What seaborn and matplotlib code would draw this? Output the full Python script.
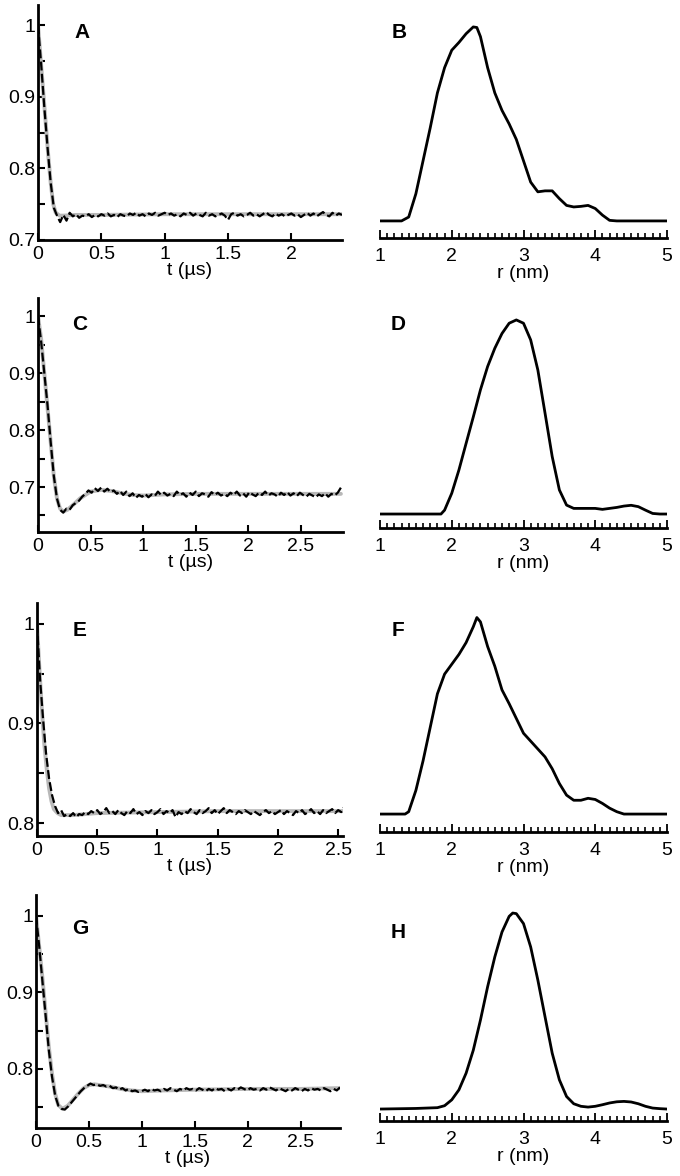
import numpy as np
import pandas as pd
import matplotlib.pyplot as plt
import seaborn as sns
from matplotlib.ticker import MultipleLocator, FormatStrFormatter

# ---- time traces (left column) ----
# smooth fits (grey)
tA_fit = [0, 0.02, 0.04, 0.06, 0.08, 0.10, 0.12, 0.14, 0.17, 0.2, 0.3, 0.5, 1.0, 1.5, 2.0, 2.4]
yA_fit = [1.0, 0.955, 0.91, 0.865, 0.82, 0.78, 0.75, 0.738, 0.734, 0.734, 0.735, 0.735, 0.736, 0.736, 0.736, 0.736]
tC_fit = [0, 0.03, 0.06, 0.09, 0.12, 0.15, 0.18, 0.21, 0.24, 0.28, 0.33, 0.4, 0.5, 0.6, 0.7, 0.8, 0.9, 1.0, 1.2, 1.5, 2.0, 2.5, 2.88]
yC_fit = [1.0, 0.96, 0.9, 0.84, 0.78, 0.72, 0.68, 0.662, 0.657, 0.66, 0.668, 0.68, 0.692, 0.695, 0.693, 0.689, 0.686, 0.685, 0.687, 0.688, 0.688, 0.688, 0.688]
tE_fit = [0, 0.02, 0.04, 0.06, 0.08, 0.10, 0.12, 0.14, 0.17, 0.2, 0.25, 0.3, 0.4, 0.5, 1.0, 1.5, 2.0, 2.55]
yE_fit = [1.0, 0.955, 0.915, 0.88, 0.855, 0.835, 0.822, 0.814, 0.81, 0.808, 0.808, 0.808, 0.809, 0.81, 0.811, 0.812, 0.812, 0.812]
tG_fit = [0, 0.03, 0.06, 0.09, 0.12, 0.15, 0.18, 0.21, 0.25, 0.3, 0.35, 0.4, 0.45, 0.5, 0.55, 0.6, 0.7, 0.8, 0.9, 1.0, 1.2, 1.5, 2.0, 2.5, 2.87]
yG_fit = [1.0, 0.96, 0.92, 0.875, 0.83, 0.795, 0.768, 0.753, 0.748, 0.752, 0.76, 0.768, 0.775, 0.779, 0.78, 0.779, 0.777, 0.774, 0.772, 0.771, 0.772, 0.773, 0.774, 0.774, 0.775]

# measured data (black dashed), evenly sampled from 0 to t_end
yA_data = [1.0, 0.945, 0.885, 0.83, 0.78, 0.745, 0.734, 0.725, 0.735, 0.727,
           0.738, 0.733, 0.736, 0.731, 0.734, 0.733, 0.736, 0.732, 0.735, 0.733,
           0.736, 0.734, 0.737, 0.733, 0.735, 0.732, 0.736, 0.734, 0.733, 0.737,
           0.735, 0.738, 0.734, 0.736, 0.733, 0.737, 0.735, 0.738, 0.734, 0.736,
           0.738, 0.735, 0.737, 0.734, 0.736, 0.733, 0.737, 0.735, 0.738, 0.734,
           0.737, 0.735, 0.733, 0.738, 0.734, 0.736, 0.733, 0.735, 0.737, 0.734,
           0.728, 0.736, 0.738, 0.734, 0.736, 0.733, 0.735, 0.738, 0.734, 0.736,
           0.733, 0.736, 0.739, 0.735, 0.733, 0.737, 0.734, 0.736, 0.733, 0.735,
           0.737, 0.734, 0.736, 0.732, 0.735, 0.738, 0.734, 0.737, 0.733, 0.736,
           0.739, 0.735, 0.733, 0.738, 0.734, 0.737, 0.735]
yC_data = [1.0, 0.955, 0.9, 0.845, 0.78, 0.72, 0.68, 0.66, 0.655, 0.662,
           0.66, 0.668, 0.672, 0.676, 0.683, 0.688, 0.694, 0.69, 0.698, 0.693,
           0.699, 0.692, 0.697, 0.691, 0.694, 0.688, 0.693, 0.686, 0.692, 0.684,
           0.689, 0.681, 0.686, 0.683, 0.688, 0.682, 0.687, 0.684, 0.692, 0.686,
           0.69, 0.685, 0.688, 0.684, 0.692, 0.686, 0.689, 0.683, 0.69, 0.686,
           0.692, 0.684, 0.689, 0.687, 0.683, 0.691, 0.686, 0.69, 0.685, 0.688,
           0.684, 0.69, 0.686, 0.692, 0.685, 0.689, 0.683, 0.691, 0.687, 0.684,
           0.69, 0.686, 0.692, 0.685, 0.689, 0.687, 0.683, 0.69, 0.686, 0.691,
           0.685, 0.689, 0.684, 0.69, 0.686, 0.683, 0.688, 0.685, 0.682, 0.687,
           0.684, 0.689, 0.683, 0.688, 0.685, 0.69, 0.699]
yE_data = [1.0, 0.945, 0.905, 0.87, 0.845, 0.828, 0.817, 0.81, 0.813, 0.807,
           0.809, 0.807, 0.81, 0.806, 0.809, 0.808, 0.811, 0.809, 0.812, 0.81,
           0.813, 0.809, 0.811, 0.815, 0.81, 0.812, 0.809, 0.813, 0.81, 0.808,
           0.812, 0.81, 0.814, 0.809, 0.811, 0.808, 0.812, 0.81, 0.813, 0.809,
           0.811, 0.814, 0.809, 0.812, 0.81, 0.813, 0.806, 0.811, 0.809, 0.812,
           0.81, 0.814, 0.811, 0.809, 0.813, 0.81, 0.812, 0.815, 0.81, 0.813,
           0.809, 0.812, 0.815, 0.81, 0.813, 0.811, 0.809, 0.812, 0.81, 0.813,
           0.811, 0.809, 0.812, 0.81, 0.808, 0.811, 0.813, 0.81, 0.812, 0.809,
           0.811, 0.813, 0.809, 0.812, 0.81, 0.808, 0.812, 0.81, 0.813, 0.809,
           0.811, 0.814, 0.81, 0.812, 0.809, 0.813, 0.81, 0.812, 0.814, 0.81,
           0.813, 0.811, 0.816]
yG_data = [1.0, 0.96, 0.915, 0.87, 0.825, 0.79, 0.765, 0.752, 0.748, 0.747,
           0.751, 0.756, 0.761, 0.766, 0.771, 0.775, 0.778, 0.781, 0.779, 0.78,
           0.778, 0.779, 0.777, 0.778, 0.775, 0.776, 0.773, 0.775, 0.772, 0.774,
           0.771, 0.772, 0.77, 0.771, 0.773, 0.771, 0.774, 0.772, 0.773, 0.771,
           0.774, 0.772, 0.775, 0.773, 0.771, 0.774, 0.772, 0.775, 0.773, 0.774,
           0.772, 0.775, 0.773, 0.771, 0.774, 0.772, 0.775, 0.773, 0.774, 0.771,
           0.774, 0.772, 0.775, 0.773, 0.776, 0.774, 0.772, 0.775, 0.773, 0.774,
           0.772, 0.775, 0.773, 0.776, 0.774, 0.772, 0.775, 0.773, 0.771, 0.774,
           0.772, 0.775, 0.773, 0.771, 0.774, 0.772, 0.775, 0.773, 0.774, 0.772,
           0.775, 0.773, 0.771, 0.774, 0.772, 0.776]
t_end = [2.4, 2.88, 2.55, 2.87]

# ---- distance distributions (right column) ----
rB = [1.0, 1.3, 1.4, 1.5, 1.6, 1.7, 1.8, 1.9, 2.0, 2.1, 2.2, 2.3, 2.35, 2.4, 2.5, 2.6, 2.7, 2.8, 2.9, 3.0,
      3.1, 3.2, 3.3, 3.4, 3.5, 3.6, 3.7, 3.8, 3.9, 4.0, 4.1, 4.2, 4.3, 5.0]
pB = [0, 0, 0.02, 0.14, 0.31, 0.48, 0.66, 0.79, 0.88, 0.92, 0.965, 1.0, 0.997, 0.95, 0.79, 0.66, 0.57, 0.5, 0.42, 0.31,
      0.2, 0.15, 0.155, 0.155, 0.115, 0.08, 0.072, 0.075, 0.08, 0.064, 0.03, 0.003, 0, 0]
rD = [1.0, 1.85, 1.9, 2.0, 2.1, 2.2, 2.3, 2.4, 2.5, 2.6, 2.7, 2.8, 2.9, 3.0, 3.1, 3.2, 3.3, 3.4, 3.5, 3.6,
      3.7, 3.8, 4.0, 4.1, 4.2, 4.3, 4.4, 4.5, 4.6, 4.7, 4.8, 4.9, 5.0]
pD = [0, 0, 0.02, 0.107, 0.227, 0.364, 0.5, 0.64, 0.76, 0.854, 0.93, 0.983, 1.0, 0.983, 0.897, 0.742, 0.52, 0.296, 0.124, 0.046,
      0.029, 0.029, 0.029, 0.024, 0.029, 0.034, 0.041, 0.045, 0.038, 0.02, 0.003, 0, 0]
rF = [1.0, 1.35, 1.4, 1.5, 1.6, 1.7, 1.8, 1.9, 2.0, 2.1, 2.2, 2.3, 2.35, 2.4, 2.5, 2.6, 2.7, 2.8, 2.9, 3.0,
      3.1, 3.2, 3.3, 3.4, 3.5, 3.6, 3.7, 3.8, 3.9, 4.0, 4.1, 4.2, 4.3, 4.4, 5.0]
pF = [0, 0, 0.012, 0.12, 0.27, 0.44, 0.61, 0.71, 0.76, 0.81, 0.87, 0.95, 0.997, 0.975, 0.85, 0.75, 0.63, 0.56, 0.485, 0.41,
      0.37, 0.33, 0.29, 0.23, 0.155, 0.096, 0.07, 0.07, 0.08, 0.074, 0.054, 0.03, 0.012, 0, 0]
rH = [1.0, 1.5, 1.8, 1.9, 2.0, 2.1, 2.2, 2.3, 2.4, 2.5, 2.6, 2.7, 2.8, 2.85, 2.9, 3.0, 3.1, 3.2, 3.3, 3.4,
      3.5, 3.6, 3.7, 3.8, 3.9, 4.0, 4.1, 4.2, 4.3, 4.4, 4.5, 4.6, 4.7, 4.8, 4.9, 5.0]
pH = [0, 0.003, 0.007, 0.017, 0.047, 0.098, 0.183, 0.3, 0.454, 0.624, 0.776, 0.903, 0.983, 1.0, 0.997, 0.946, 0.827, 0.658, 0.471, 0.285,
      0.149, 0.064, 0.027, 0.014, 0.01, 0.014, 0.022, 0.031, 0.037, 0.039, 0.036, 0.027, 0.014, 0.005, 0.002, 0]

left_letters = ['A', 'C', 'E', 'G']
right_letters = ['B', 'D', 'F', 'H']

sns.set_style('ticks', {'axes.edgecolor': 'black', 'text.color': 'black',
                        'xtick.color': 'black', 'ytick.color': 'black'})
plt.rcParams['font.family'] = ['Liberation Sans', 'DejaVu Sans']
plt.rcParams['font.size'] = 14

W, H = 680, 1176
fig = plt.figure(figsize=(W / 100, H / 100), dpi=100)


def px_axes(l, t, r, b):
    return fig.add_axes([l / W, 1 - b / H, (r - l) / W, (b - t) / H])


# pixel boxes and y ranges
left_boxes = [(38, 5, 342, 240), (38, 298, 343, 532), (37, 603, 343, 836), (36, 895, 340, 1128)]
left_xmax = [2.40, 2.90, 2.54, 2.87]
left_ylim = [(0.7, 1.028), (0.621, 1.032), (0.787, 1.021), (0.723, 1.027)]
right_boxes = [(380, 5, 667, 238), (380, 298, 667, 528), (380, 600, 667, 832), (380, 895, 667, 1121)]
right_ylim = [(-0.088, 1.113), (-0.072, 1.113), (-0.091, 1.086), (-0.061, 1.092)]
letter_pos_left = [(82, 33), (80, 325), (80, 630), (80, 928)]
letter_pos_right = [(399, 33), (398, 325), (398, 630), (398, 932)]

fits = [(tA_fit, yA_fit), (tC_fit, yC_fit), (tE_fit, yE_fit), (tG_fit, yG_fit)]
datas = [yA_data, yC_data, yE_data, yG_data]
dists = [(rB, pB), (rD, pD), (rF, pF), (rH, pH)]

for i in range(4):
    ax = px_axes(*left_boxes[i])
    tf, yf = fits[i]
    td = np.linspace(0, t_end[i], len(datas[i]))
    sns.lineplot(x=tf, y=yf, ax=ax, color='#b8b8b8', lw=2.8, sort=False)
    sns.lineplot(x=td, y=datas[i], ax=ax, color='black', lw=1.6,
                 linestyle=(0, (4, 1.5)), sort=False)
    ax.set_xlim(0, left_xmax[i])
    ax.set_ylim(*left_ylim[i])
    ax.xaxis.set_major_locator(MultipleLocator(0.5))
    ax.xaxis.set_major_formatter(FormatStrFormatter('%g'))
    ax.yaxis.set_major_locator(MultipleLocator(0.1))
    ax.yaxis.set_minor_locator(MultipleLocator(0.05))
    ax.yaxis.set_major_formatter(FormatStrFormatter('%g'))
    ax.tick_params(which='both', direction='in', length=5, width=1.5, labelsize=14, pad=2,
                   colors='black')
    ax.tick_params(axis='x', pad=4.5)
    sns.despine(ax=ax)
    for s in ['left', 'bottom']:
        ax.spines[s].set_linewidth(2)
        ax.spines[s].set_color('black')
    ax.set_xlabel('t (µs)', fontsize=14, labelpad=-1, color='black')
    ax.patch.set_alpha(0)
    fig.text(letter_pos_left[i][0] / W, 1 - letter_pos_left[i][1] / H, left_letters[i],
             fontsize=15, fontweight='bold', ha='center', va='center', color='black')

    ax2 = px_axes(*right_boxes[i])
    r, p = dists[i]
    sns.lineplot(x=r, y=p, ax=ax2, color='black', lw=2, sort=False)
    ax2.set_xlim(1, 5)
    ax2.set_ylim(*right_ylim[i])
    ax2.xaxis.set_major_locator(MultipleLocator(1))
    ax2.xaxis.set_minor_locator(MultipleLocator(0.1))
    ax2.xaxis.set_major_formatter(FormatStrFormatter('%g'))
    ax2.tick_params(axis='x', which='major', direction='in', length=6, width=1.3, labelsize=14, pad=7,
                    colors='black')
    ax2.tick_params(axis='x', which='minor', direction='in', length=3.5, width=1.2, colors='black')
    ax2.set_yticks([])
    sns.despine(ax=ax2, left=True)
    ax2.spines['bottom'].set_linewidth(2)
    ax2.spines['bottom'].set_color('black')
    ax2.set_xlabel('r (nm)', fontsize=14, labelpad=0, color='black')
    ax2.set_ylabel('')
    ax2.patch.set_alpha(0)
    fig.text(letter_pos_right[i][0] / W, 1 - letter_pos_right[i][1] / H, right_letters[i],
             fontsize=15, fontweight='bold', ha='center', va='center', color='black')

fig.savefig('out.png', dpi=100)
